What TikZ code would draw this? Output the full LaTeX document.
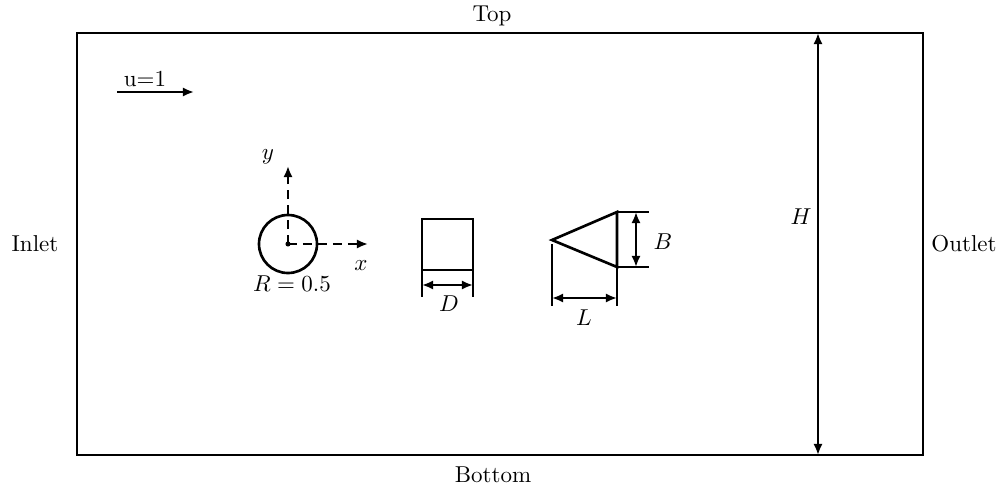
\documentclass[tikz,border=0pt]{standalone}
\usetikzlibrary{arrows.meta}
\begin{document}
\begin{tikzpicture}[x=0.435pt,y=-0.435pt,
  body/.style={line width=1.15pt},
  tip/.style={Latex[length=4.8pt,width=4pt]},
  dimline/.style={line width=1.15pt,{Latex[length=4.8pt,width=4pt]}-{Latex[length=4.8pt,width=4pt]}},
  axis/.style={line width=1.15pt,dash pattern=on 4pt off 2.5pt,-{Latex[length=4.8pt,width=4pt]}},
  lbl/.style={inner sep=0pt}]
\useasboundingbox (0,0) rectangle (1001,488);
% domain
\coordinate (TL) at (77,33);
\coordinate (BR) at (923,455);
\draw[body] (TL) rectangle (BR);
\node[lbl] (top) at (492,16) {Top};
\node[lbl] (bottom) at (493,475) {Bottom};
\node[lbl] (inlet) at (35,244) {Inlet};
\node[lbl] (outlet) at (964,244) {Outlet};
% H
\coordinate (Ht) at (818,33);
\coordinate (Hb) at (818,455);
\draw[dimline] (Ht) -- (Hb);
\node[lbl] (H) at (801,217) {$H$};
% inflow
\node[lbl] (u) at (145,79) {u=1};
\coordinate (u0) at (117,92);
\coordinate (u1) at (194,92);
\draw[body,-{Latex[length=4.8pt,width=4pt]}] (u0) -- (u1);
% cylinder
\coordinate (C) at (288,244);
\draw[body] (C) circle (29);
\fill (C) circle (1.1pt);
\coordinate (ya) at (288,166);
\coordinate (xa) at (368,244);
\draw[axis] (C) -- (ya);
\draw[axis] (C) -- (xa);
\node[lbl] (ylab) at (268,157) {$y$};
\node[lbl] (xlab) at (361,266) {$x$};
\node[lbl] (R) at (292,284) {$R=0.5$};
% square
\coordinate (S1) at (422,219);
\coordinate (S2) at (473,270);
\draw[body] (S1) rectangle (S2);
\coordinate (Sd1) at (422,297);
\coordinate (Sd2) at (473,297);
\draw[body] (422,270) -- (Sd1);
\draw[body] (473,270) -- (Sd2);
\coordinate (Da) at (422,285);
\coordinate (Db) at (473,285);
\draw[dimline] (Da) -- (Db);
\node[lbl] (D) at (449,304) {$D$};
% triangle
\coordinate (T0) at (552,240);
\coordinate (T1) at (617,212);
\coordinate (T2) at (617,267);
\draw[body] (T0) -- (T1) -- (T2) -- cycle;
\coordinate (Te1) at (649,212);
\coordinate (Te2) at (649,267);
\draw[body] (T1) -- (Te1);
\draw[body] (T2) -- (Te2);
\coordinate (Ba) at (636,212);
\coordinate (Bb) at (636,267);
\draw[dimline] (Ba) -- (Bb);
\node[lbl] (B) at (663,242) {$B$};
\coordinate (Lv1) at (552,244);
\coordinate (Lv1b) at (552,306);
\coordinate (Lv2b) at (617,306);
\draw[body] (Lv1) -- (Lv1b);
\draw[body] (T2) -- (Lv2b);
\coordinate (La) at (552,298);
\coordinate (Lb) at (617,298);
\draw[dimline] (La) -- (Lb);
\node[lbl] (L) at (584,318) {$L$};
\end{tikzpicture}
\end{document}
